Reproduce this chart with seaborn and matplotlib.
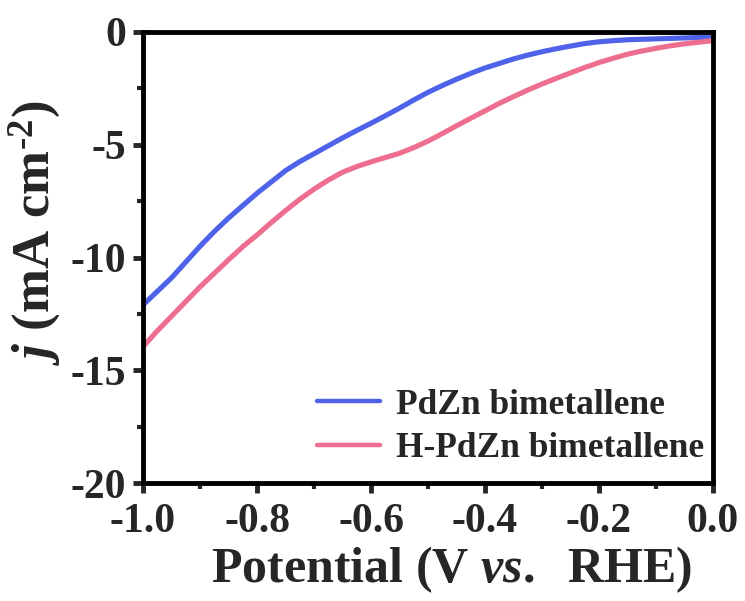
import numpy as np
import pandas as pd
import matplotlib
matplotlib.use("Agg")
import matplotlib.pyplot as plt
import seaborn as sns
from matplotlib.ticker import MultipleLocator, FuncFormatter

# Polarization (LSV) curves: current density vs potential
potential = [-1.0, -0.975, -0.95, -0.925, -0.9, -0.875, -0.85, -0.825, -0.8, -0.775,
             -0.75, -0.725, -0.7, -0.675, -0.65, -0.625, -0.6, -0.575, -0.55, -0.525,
             -0.5, -0.475, -0.45, -0.425, -0.4, -0.375, -0.35, -0.325, -0.3, -0.275,
             -0.25, -0.225, -0.2, -0.175, -0.15, -0.125, -0.1, -0.075, -0.05, -0.025, 0.0]
j_pdzn = [-12.1, -11.5, -10.9, -10.2, -9.5, -8.85, -8.25, -7.7, -7.15, -6.65,
          -6.15, -5.75, -5.4, -5.05, -4.7, -4.37, -4.05, -3.72, -3.38, -3.02,
          -2.68, -2.38, -2.1, -1.84, -1.6, -1.4, -1.2, -1.03, -0.88, -0.75,
          -0.63, -0.52, -0.44, -0.39, -0.35, -0.33, -0.31, -0.29, -0.27, -0.25, -0.24]
j_h_pdzn = [-13.95, -13.25, -12.6, -11.95, -11.3, -10.7, -10.1, -9.52, -9.0, -8.45,
            -7.92, -7.42, -6.97, -6.57, -6.22, -5.97, -5.76, -5.57, -5.38, -5.13,
            -4.84, -4.51, -4.16, -3.83, -3.5, -3.17, -2.87, -2.58, -2.31, -2.06,
            -1.82, -1.58, -1.36, -1.17, -0.99, -0.85, -0.73, -0.62, -0.53, -0.46, -0.39]
series_names = ["PdZn bimetallene", "H-PdZn bimetallene"]
series_colors = ["#4F62EA", "#EE6E8F"]

df = pd.concat([
    pd.DataFrame({"Potential": potential, "j": j_pdzn, "Sample": series_names[0]}),
    pd.DataFrame({"Potential": potential, "j": j_h_pdzn, "Sample": series_names[1]}),
])

sns.set_style("ticks")
plt.rcParams["font.family"] = ["Liberation Serif", "DejaVu Serif"]
plt.rcParams["font.weight"] = "bold"
plt.rcParams["mathtext.fontset"] = "custom"
plt.rcParams["mathtext.rm"] = "Liberation Serif:bold"
plt.rcParams["mathtext.bf"] = "Liberation Serif:bold"
plt.rcParams["mathtext.it"] = "Liberation Serif:italic:bold"

fig = plt.figure(figsize=(7.45, 6.01), dpi=100)
ax = fig.add_axes([0.192, 0.196, 0.765, 0.751])

sns.lineplot(data=df, x="Potential", y="j", hue="Sample",
             palette=dict(zip(series_names, series_colors)),
             linewidth=3.7, ax=ax, legend=True)

ax.set_xlim(-1.0, 0.0)
ax.set_ylim(-20, 0)
ax.xaxis.set_major_locator(MultipleLocator(0.2))
ax.xaxis.set_minor_locator(MultipleLocator(0.1))
ax.yaxis.set_major_locator(MultipleLocator(5))
ax.yaxis.set_minor_locator(MultipleLocator(2.5))
ax.xaxis.set_major_formatter(FuncFormatter(lambda v, p: f"{v:.1f}".replace("-0.0", "0.0")))
ax.yaxis.set_major_formatter(FuncFormatter(lambda v, p: f"{v:.0f}"))

for side in ["left", "bottom", "top", "right"]:
    ax.spines[side].set_linewidth(3.5)
    ax.spines[side].set_color("black")

ax.tick_params(axis="both", which="major", direction="out", length=7, width=3.5,
               labelsize=30)
ax.tick_params(axis="both", which="minor", direction="out", length=4, width=3)
ax.tick_params(axis="x", which="major", pad=7)
ax.tick_params(axis="y", which="major", pad=5)
for lab in ax.get_xticklabels() + ax.get_yticklabels():
    lab.set_fontweight("bold")

ax.set_xlabel("Potential (V $vs.$  RHE)", fontsize=36, fontweight="bold")
ax.set_ylabel(r"$j$ (mA cm$^{\text{-2}}$)", fontsize=38, fontweight="bold")
ax.xaxis.set_label_coords(0.542, -0.135)
ax.yaxis.set_label_coords(-0.14, 0.554)

leg = ax.legend(loc="lower right", bbox_to_anchor=(0.985, 0.04), frameon=False,
                fontsize=25.5, handlelength=1.8, handletextpad=0.45, labelspacing=0.3,
                borderaxespad=0.0, borderpad=0.0)
for t in leg.get_texts():
    t.set_fontweight("bold")
for line in leg.get_lines():
    line.set_linewidth(3.2)

fig.savefig("out.png", dpi=100)
